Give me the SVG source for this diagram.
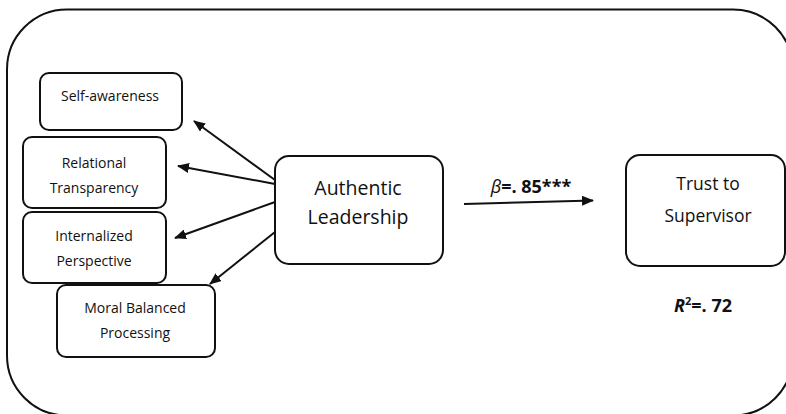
<svg xmlns="http://www.w3.org/2000/svg" width="786" height="414" viewBox="0 0 786 414">
<style>
.box{fill:#fff;stroke:#111;stroke-width:2}
.t{font-family:"Open Sans","Liberation Sans",sans-serif;fill:#111;text-anchor:middle}
.s{font-size:14px}
.m{font-size:19.5px}
.c{stroke:#111;stroke-width:2;fill:none;marker-end:url(#ah)}
</style>
<defs>
<marker id="ah" viewBox="0 0 12 10" refX="11" refY="5" markerWidth="12" markerHeight="10" markerUnits="userSpaceOnUse" orient="auto">
<path d="M0,0 L12,5 L0,10 Z" fill="#111"/>
</marker>
</defs>
<rect x="7" y="9.5" width="786" height="406" rx="60" ry="60" fill="none" stroke="#111" stroke-width="2"/>
<g id="connectors">
<line class="c" x1="275" y1="180" x2="194" y2="121"/>
<line class="c" x1="275" y1="184" x2="178" y2="166"/>
<line class="c" x1="275" y1="202" x2="175" y2="238"/>
<line class="c" x1="275" y1="232" x2="210" y2="284"/>
<line class="c" x1="464" y1="204" x2="593" y2="200.5"/>
</g>
<g id="self-awareness">
<rect class="box" x="40" y="73" width="142" height="57" rx="9"/>
<text class="t s" x="110" y="101">Self-awareness</text>
</g>
<g id="relational-transparency">
<rect class="box" x="23" y="137" width="143" height="71" rx="9"/>
<text class="t s" x="94" y="168">Relational</text>
<text class="t s" x="94" y="193">Transparency</text>
</g>
<g id="internalized-perspective">
<rect class="box" x="23" y="212" width="143" height="71" rx="9"/>
<text class="t s" x="94" y="241">Internalized</text>
<text class="t s" x="94" y="266">Perspective</text>
</g>
<g id="moral-balanced-processing">
<rect class="box" x="57" y="285" width="158" height="72" rx="9"/>
<text class="t s" x="135" y="313">Moral Balanced</text>
<text class="t s" x="135" y="338">Processing</text>
</g>
<g id="authentic-leadership">
<rect class="box" x="275" y="156" width="168" height="108" rx="14"/>
<text class="t m" x="358" y="195">Authentic</text>
<text class="t m" x="358" y="224">Leadership</text>
</g>
<g id="trust-to-supervisor">
<rect class="box" x="626" y="155" width="159" height="111" rx="14"/>
<text class="t" style="font-size:17.5px" x="708" y="190">Trust to</text>
<text class="t" style="font-size:17.5px" x="708" y="222">Supervisor</text>
</g>
<g id="labels">
<text class="t" style="font-size:18px;font-weight:bold" x="531" y="193"><tspan font-style="italic" font-weight="normal">β</tspan>=. 85***</text>
<text class="t" style="font-size:18px;font-weight:bold" x="703" y="312"><tspan font-style="italic">R</tspan><tspan font-size="11" dy="-7">2</tspan><tspan dy="7">=. 72</tspan></text>
</g>
</svg>
